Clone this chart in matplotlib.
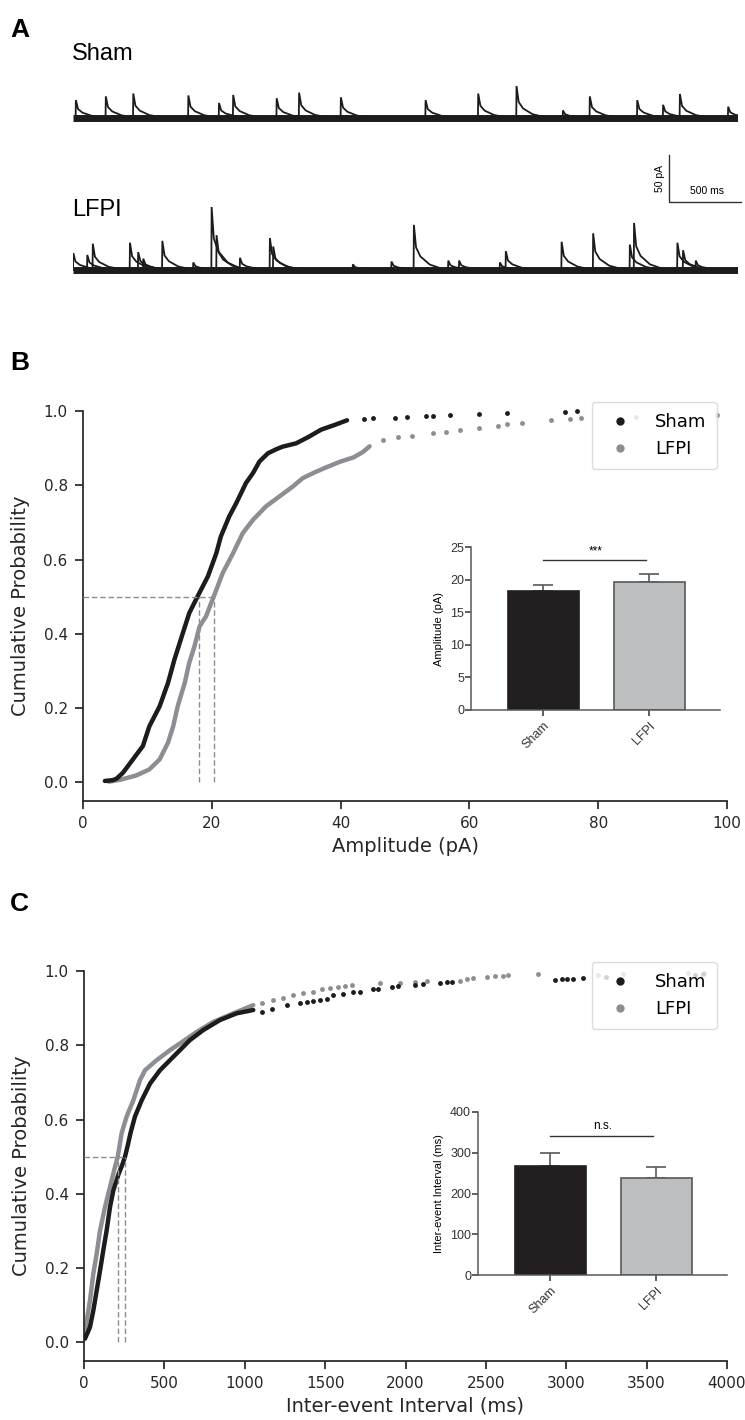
import matplotlib
matplotlib.use("Agg")
import matplotlib.pyplot as plt
from matplotlib.lines import Line2D

# ---- A: example traces (event time in ms, amplitude in pA) ----
sham_evt_t = [20, 227, 417, 798, 1010, 1108, 1409, 1564, 1853, 2439, 2803, 3068,
              3389, 3575, 3903, 4082, 4198, 4532]
sham_evt_a = [19, 23, 26, 24, 16, 24.5, 21, 27, 22, 19, 26, 34, 8, 23, 19, 14, 25.5, 12]
lfpi_evt_t = [2, 99, 137, 394, 451, 486, 618, 832, 959, 993, 1155, 1362, 1385, 1936,
              2203, 2358, 2596, 2671, 2953, 2994, 3380, 3598, 3852, 3881, 4181, 4220, 4308]
lfpi_evt_a = [18, 16, 28, 29, 19, 12, 31, 8, 67, 37, 13, 34, 25, 6, 9, 48, 10, 10, 8, 20,
              30, 39, 27, 50, 29, 21, 10]

# ---- B: cumulative amplitude ----
amp_sham_x = [3.4, 4.6, 5.2, 6.2, 7.75, 9.3, 10.3, 11.9, 13.2, 14.2, 15.5, 16.5, 17.8, 19.4,
              20.7, 21.4, 22.7, 23.8, 25.3, 26.4, 27.4, 28.7, 30.0, 31.0, 33.1, 35.0, 37.0,
              39.0, 41.0]
amp_sham_y = [0.004, 0.006, 0.010, 0.026, 0.062, 0.098, 0.151, 0.205, 0.268, 0.331, 0.402,
              0.456, 0.501, 0.555, 0.617, 0.662, 0.716, 0.752, 0.806, 0.833, 0.864, 0.886,
              0.897, 0.904, 0.913, 0.930, 0.950, 0.962, 0.975]
amp_sham_tail_x = [43.7, 45.1, 48.5, 50.3, 53.3, 54.4, 57.0, 61.5, 65.9, 74.8, 76.7]
amp_sham_tail_y = [0.978, 0.980, 0.981, 0.983, 0.986, 0.987, 0.990, 0.992, 0.994, 0.998, 0.999]
amp_lfpi_x = [4.0, 6.0, 8.3, 10.3, 11.9, 13.2, 14.0, 14.7, 15.8, 16.5, 17.3, 18.1, 19.1, 19.9,
              20.4, 21.7, 23.3, 24.8, 26.4, 28.4, 30.5, 32.6, 34.1, 36.0, 38.0, 40.0, 42.0,
              43.5, 44.5]
amp_lfpi_y = [0.002, 0.008, 0.019, 0.035, 0.062, 0.107, 0.151, 0.205, 0.268, 0.322, 0.366,
              0.420, 0.447, 0.483, 0.505, 0.564, 0.617, 0.671, 0.707, 0.743, 0.770, 0.797,
              0.819, 0.835, 0.850, 0.864, 0.875, 0.890, 0.905]
amp_lfpi_tail_x = [46.6, 48.9, 51.1, 54.4, 56.3, 58.5, 61.5, 64.4, 65.9, 68.1, 72.6, 75.6,
                   77.4, 85.9, 98.5]
amp_lfpi_tail_y = [0.922, 0.929, 0.933, 0.940, 0.944, 0.949, 0.955, 0.960, 0.964, 0.969,
                   0.976, 0.978, 0.980, 0.984, 0.989]
amp_median = [18.0, 20.3]

# ---- C: cumulative inter-event interval ----
iei_sham_x = [6, 37, 58, 79, 100, 120, 141, 162, 183, 214, 238, 255, 272, 290, 317, 359, 411,
              473, 535, 597, 659, 742, 846, 950, 1053]
iei_sham_y = [0.010, 0.041, 0.086, 0.140, 0.194, 0.248, 0.302, 0.365, 0.410, 0.452, 0.478,
              0.500, 0.530, 0.565, 0.608, 0.652, 0.697, 0.733, 0.760, 0.787, 0.814, 0.841,
              0.868, 0.886, 0.895]
iei_sham_tail_x = [1105, 1168, 1261, 1344, 1385, 1427, 1468, 1510, 1551, 1613, 1675, 1717,
                   1800, 1831, 1914, 1955, 2059, 2111, 2215, 2256, 2287, 2930, 2971, 3003,
                   3044, 3106, 3250, 3800, 3850]
iei_sham_tail_y = [0.890, 0.899, 0.908, 0.913, 0.917, 0.919, 0.922, 0.924, 0.935, 0.937,
                   0.943, 0.944, 0.951, 0.952, 0.958, 0.960, 0.962, 0.964, 0.967, 0.970,
                   0.971, 0.976, 0.978, 0.978, 0.979, 0.980, 0.983, 0.990, 0.992]
iei_lfpi_x = [5, 17, 37, 58, 79, 100, 131, 162, 193, 210, 234, 265, 307, 348, 380, 452, 535,
              597, 701, 805, 929, 1053]
iei_lfpi_y = [0.012, 0.059, 0.113, 0.185, 0.239, 0.302, 0.365, 0.419, 0.473, 0.500, 0.563,
              0.608, 0.652, 0.706, 0.733, 0.760, 0.787, 0.805, 0.836, 0.863, 0.886, 0.908]
iei_lfpi_tail_x = [1110, 1178, 1240, 1302, 1364, 1427, 1479, 1530, 1582, 1624, 1665, 1841,
                   1966, 2059, 2132, 2339, 2381, 2422, 2505, 2557, 2609, 2640, 2826, 3200,
                   3350, 3760, 3860]
iei_lfpi_tail_y = [0.915, 0.922, 0.928, 0.935, 0.940, 0.944, 0.951, 0.953, 0.958, 0.960,
                   0.962, 0.967, 0.968, 0.971, 0.973, 0.974, 0.978, 0.980, 0.985, 0.986,
                   0.987, 0.989, 0.991, 0.990, 0.993, 0.994, 0.994]
iei_median = [210, 255]

# ---- insets: mean + SEM ----
groups = ["Sham", "LFPI"]
amp_mean = [18.2, 19.6]
amp_sem = [0.9, 1.3]
iei_mean = [268, 237]
iei_sem = [32, 28]

W, H = 745, 1420
fig = plt.figure(figsize=(W / 100, H / 100), dpi=100)

def px_axes(x0, y0, x1, y1):
    return fig.add_axes([x0 / W, 1 - y1 / H, (x1 - x0) / W, (y1 - y0) / H])

BLACK = "#1c1c1c"
GRAY = "#8b8e92"
DASH = "#8e8e8e"
SANS = ["Liberation Sans", "DejaVu Sans"]

# panel letters
for lab, y in [("A", 37), ("B", 370), ("C", 911)]:
    fig.text(10 / W, 1 - y / H, lab, fontsize=19, fontweight="bold", family=SANS,
             va="baseline", ha="left")

# ---------------- Panel A ----------------
axA = px_axes(73, 80, 738, 290)
axA.set_xlim(0, 4600)
axA.set_ylim(0, 210 / 0.94)
axA.axis("off")

def draw_trace(ax, base, times, amps):
    # noisy baseline shown as a dense band
    ax.plot([0, 4600], [base, base], color=BLACK, lw=5.0, solid_capstyle="butt")
    for t, a in zip(times, amps):
        ax.plot([t - 2, t, t + 15, t + 45, t + 110, t + 220],
                [base, base + a, base + 0.5 * a, base + 0.3 * a, base + 0.12 * a, base],
                color=BLACK, lw=1.3, solid_joinstyle="miter")

draw_trace(axA, 183, sham_evt_t, sham_evt_a)
draw_trace(axA, 21.3, lfpi_evt_t, lfpi_evt_a)

fig.text(72 / W, 1 - 60 / H, "Sham", fontsize=17, family=SANS, va="baseline")
fig.text(72 / W, 1 - 216 / H, "LFPI", fontsize=17, family=SANS, va="baseline")

# scale bar
axA.plot([4122, 4122, 4622], [143.6, 93.6, 93.6], color="#333333", lw=1, clip_on=False)
axA.text(4062, 118.6, "50 pA", rotation=90, ha="center", va="center", fontsize=7.5,
         family=SANS)
axA.text(4385, 100, "500 ms", ha="center", va="bottom", fontsize=7.5, family=SANS)

# ---------------- cumulative panels ----------------
def cum_panel(box, xlim, xticks, xlabel, sx, sy, stx, sty, lx, ly, ltx, lty, med, legtop):
    ax = px_axes(*box)
    ax.plot(lx, ly, color=GRAY, lw=3.2, solid_capstyle="round", zorder=2)
    ax.plot(ltx, lty, "o", color=GRAY, ms=3.5, mew=0, clip_on=False, zorder=2)
    ax.plot(sx, sy, color=BLACK, lw=3.2, solid_capstyle="round", zorder=3)
    ax.plot(stx, sty, "o", color=BLACK, ms=3.5, mew=0, clip_on=False, zorder=3)
    ax.plot([0, med[1]], [0.5, 0.5], color=DASH, lw=1, ls=(0, (4, 2)), zorder=4)
    for m in med:
        ax.plot([m, m], [0, 0.5], color=DASH, lw=1, ls=(0, (4, 2)), zorder=4)
    ax.set_xlim(*xlim)
    ax.set_ylim(-0.05, 1.0)
    ax.set_xticks(xticks)
    ax.set_yticks([0.0, 0.2, 0.4, 0.6, 0.8, 1.0])
    ax.set_yticklabels(["0.0", "0.2", "0.4", "0.6", "0.8", "1.0"])
    for s in ["top", "right"]:
        ax.spines[s].set_visible(False)
    for s in ["left", "bottom"]:
        ax.spines[s].set_color("#262626")
        ax.spines[s].set_linewidth(1.25)
    ax.tick_params(direction="out", length=6, width=1.25, colors="#262626",
                   labelsize=11, pad=5)
    ax.set_xlabel(xlabel, fontsize=14, color="#262626", labelpad=4)
    ax.set_ylabel("Cumulative Probability", fontsize=14, color="#262626", labelpad=10)
    handles = [Line2D([], [], ls="", marker="o", color=BLACK, ms=6, mew=0),
               Line2D([], [], ls="", marker="o", color=GRAY, ms=6, mew=0)]
    leg = ax.legend(handles, groups, loc="upper right", bbox_to_anchor=(717 / W, 1 - legtop / H),
                    bbox_transform=fig.transFigure, borderaxespad=0, fontsize=13,
                    frameon=True, framealpha=0.8, edgecolor="#cfd3da", fancybox=True,
                    handletextpad=0.9, borderpad=0.6, labelspacing=0.5)
    leg.get_frame().set_linewidth(1.0)
    return ax

cum_panel((83, 411, 727, 801), (0, 100), [0, 20, 40, 60, 80, 100], "Amplitude (pA)",
          amp_sham_x, amp_sham_y, amp_sham_tail_x, amp_sham_tail_y,
          amp_lfpi_x, amp_lfpi_y, amp_lfpi_tail_x, amp_lfpi_tail_y, amp_median, 402)
cum_panel((84, 971, 727, 1361), (0, 4000), [0, 500, 1000, 1500, 2000, 2500, 3000, 3500, 4000],
          "Inter-event Interval (ms)",
          iei_sham_x, iei_sham_y, iei_sham_tail_x, iei_sham_tail_y,
          iei_lfpi_x, iei_lfpi_y, iei_lfpi_tail_x, iei_lfpi_tail_y, iei_median, 962)

# ---------------- insets (bar + SEM) ----------------
def bar_inset(box, means, sems, ylim, yticks, ylabel, sig, sig_y, sig_text_y):
    ax = px_axes(*box)
    ax.bar([0, 1], means, width=0.67, color=["#231f20", "#bcbec0"],
           edgecolor=["#231f20", "#58595b"], linewidth=1.2, zorder=2)
    ax.errorbar([0, 1], means, yerr=[[0, 0], sems], fmt="none", ecolor="#58595b",
                elinewidth=1.2, capsize=7.5, capthick=1.2, zorder=1)
    ax.set_xlim(-0.68, 1.67)
    ax.set_ylim(*ylim)
    ax.set_yticks(yticks)
    ax.set_xticks([0, 1])
    ax.set_xticklabels(groups, rotation=45, ha="right", rotation_mode="anchor",
                       fontsize=9, family=SANS)
    for lbl in ax.get_yticklabels():
        lbl.set_family(SANS)
    for s in ["top", "right"]:
        ax.spines[s].set_visible(False)
    for s in ["left", "bottom"]:
        ax.spines[s].set_color("#58595b")
        ax.spines[s].set_linewidth(1.1)
    ax.tick_params(axis="y", direction="out", length=4, width=1.1, colors="#333333",
                   labelsize=9, pad=1)
    ax.tick_params(axis="x", direction="out", length=4, width=1.1, colors="#333333", pad=3)
    ax.set_ylabel(ylabel, fontsize=8, family=SANS, labelpad=4)
    ax.plot([0.0, 0.97], [sig_y, sig_y], color="#333333", lw=1)
    ax.text(0.5, sig_text_y, sig, ha="center", va="center", fontsize=8.5, family=SANS)
    return ax

bar_inset((471, 547, 720, 710), amp_mean, amp_sem, (0, 25), [0, 5, 10, 15, 20, 25],
          "Amplitude (pA)", "***", 23.06, 24.3)
bar_inset((478, 1112, 727, 1275), iei_mean, iei_sem, (0, 400), [0, 100, 200, 300, 400],
          "Inter-event Interval (ms)", "n.s.", 341, 366)

fig.savefig("out.png", dpi=100)
